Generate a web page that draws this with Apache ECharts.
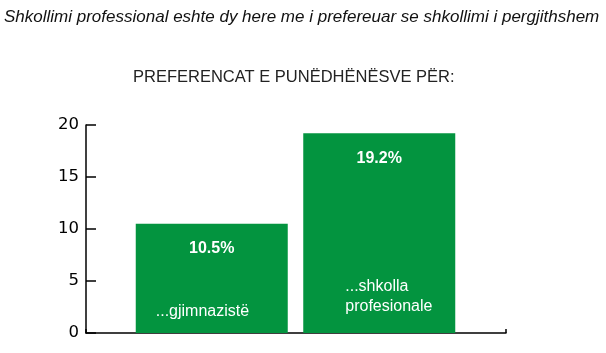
<!DOCTYPE html>
<html>
<head>
<meta charset="utf-8">
<script src="https://cdn.jsdelivr.net/npm/echarts@6/dist/echarts.min.js"></script>
<style>
  html, body { margin: 0; padding: 0; background: #fff; }
  #chart { width: 606px; height: 353px; }
</style>
</head>
<body>
<div id="chart"></div>
<script>
const categories = ['...gjimnazistë', '...shkolla\nprofesionale']
const values = [10.5, 19.2]
const yTicks = [0, 5, 10, 15, 20]

const green = '#03943f'
const font = 'Liberation Sans'

// label offsets inside each bar (left / bottom corner)
const nameOffsets = [[20, -11], [42, -16]]

const chart = echarts.init(document.getElementById('chart'))

chart.setOption({
  animation: false,
  title: [
    {
      text: 'Shkollimi professional eshte dy here me i prefereuar se shkollimi i pergjithshem',
      left: 4,
      top: 9,
      padding: 0,
      textStyle: { fontFamily: font, fontStyle: 'italic', fontWeight: 'normal', fontSize: 17, color: '#111' }
    },
    {
      text: 'PREFERENCAT E PUNËDHËNËSVE PËR:',
      left: 133,
      top: 69,
      padding: 0,
      textStyle: { fontFamily: font, fontWeight: 'normal', fontSize: 16.5, color: '#222' }
    }
  ],
  grid: [
    // bars
    { left: 128, right: 143, top: 125, bottom: 20 },
    // axes frame
    { left: 86, right: 100, top: 125, bottom: 20 }
  ],
  xAxis: [
    {
      gridIndex: 0,
      type: 'category',
      data: categories,
      axisLine: { show: false },
      axisTick: { show: false },
      axisLabel: { show: false }
    },
    {
      gridIndex: 1,
      type: 'value',
      min: 0,
      max: 1,
      interval: 1,
      axisLine: { show: true, lineStyle: { color: '#000', width: 1.5 } },
      axisTick: { show: true, inside: true, length: 4, lineStyle: { color: '#000', width: 1.5 } },
      axisLabel: { show: false },
      splitLine: { show: false }
    }
  ],
  yAxis: [
    {
      gridIndex: 0,
      type: 'value',
      min: 0,
      max: 20,
      interval: 5,
      show: false
    },
    {
      gridIndex: 1,
      type: 'value',
      min: yTicks[0],
      max: yTicks[yTicks.length - 1],
      interval: 5,
      axisLine: { show: true, lineStyle: { color: '#000', width: 1.5 } },
      axisTick: { show: true, inside: true, length: 10, lineStyle: { color: '#000', width: 1.5 } },
      axisLabel: { fontFamily: 'DejaVu Sans', fontSize: 16.5, color: '#000', margin: 7 },
      splitLine: { show: false }
    }
  ],
  series: [
    {
      type: 'bar',
      xAxisIndex: 0,
      yAxisIndex: 0,
      data: values,
      barWidth: 152,
      itemStyle: { color: green },
      label: {
        show: true,
        position: 'insideTop',
        distance: 17,
        formatter: '{c}%',
        color: '#fff',
        fontFamily: font,
        fontWeight: 'bold',
        fontSize: 16
      }
    },
    {
      type: 'bar',
      xAxisIndex: 0,
      yAxisIndex: 0,
      barGap: '-100%',
      barWidth: 152,
      silent: true,
      data: values.map((v, i) => ({
        value: v,
        label: { offset: nameOffsets[i] }
      })),
      itemStyle: { color: 'rgba(0,0,0,0)' },
      label: {
        show: true,
        position: 'insideBottomLeft',
        distance: 0,
        formatter: p => categories[p.dataIndex],
        color: '#fff',
        fontFamily: font,
        fontSize: 16,
        lineHeight: 20,
        align: 'left'
      }
    }
  ]
})
</script>
</body>
</html>
